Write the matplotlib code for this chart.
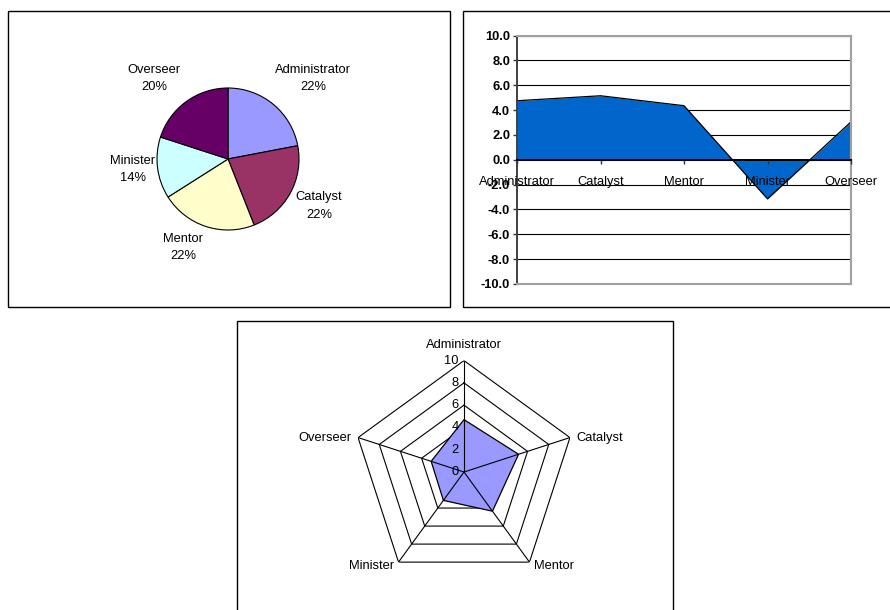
import numpy as np
import matplotlib
matplotlib.use("Agg")
import matplotlib.pyplot as plt
from matplotlib.patches import Rectangle

plt.rcParams["font.family"] = ["Liberation Sans", "DejaVu Sans"]

# ---- data ----
roles = ["Administrator", "Catalyst", "Mentor", "Minister", "Overseer"]
pie_shares = [22, 22, 22, 14, 20]
pie_colors = ["#9999FF", "#993366", "#FFFFCC", "#CCFFFF", "#660066"]
area_values = [4.75, 5.15, 4.35, -3.15, 3.05]
radar_values = [4.7, 5.15, 4.35, 3.15, 3.1]
y_ticks = [-10, -8, -6, -4, -2, 0, 2, 4, 6, 8, 10]
radar_rings = [2, 4, 6, 8, 10]

W, H = 890, 610
FS = 9.3
fig = plt.figure(figsize=(W / 100, H / 100), dpi=100)


def box(x0, y0, x1, y1):
    """Figure-fraction rect from pixel edges (origin at top-left)."""
    return [x0 / W, 1 - y1 / H, (x1 - x0) / W, (y1 - y0) / H]


def frame(x0, y0, x1, y1):
    fig.add_artist(Rectangle((x0 / W, 1 - y1 / H), (x1 - x0) / W, (y1 - y0) / H,
                             transform=fig.transFigure, fill=False,
                             edgecolor="black", linewidth=1.0))


# panel borders
frame(7.5, 11.5, 449.5, 307.5)
frame(462.5, 11.5, 900, 307.5)
frame(236.5, 320.5, 672.5, 620)

# ---- pie ----
cx, cy, r = 228, 159, 71
axp = fig.add_axes(box(cx - r, cy - r, cx + r, cy + r))
axp.pie(pie_shares, colors=pie_colors, startangle=90, counterclock=False,
        radius=1.0, wedgeprops=dict(edgecolor="black", linewidth=0.8))
axp.set_xlim(-1, 1)
axp.set_ylim(-1, 1)
axp.set_aspect("equal")
axp.axis("off")
label_pos = [(1.20, 1.13), (1.28, -0.66), (-0.63, -1.25), (-1.34, -0.15), (-1.04, 1.13)]
for name, share, (lx, ly) in zip(roles, pie_shares, label_pos):
    axp.text(lx, ly, f"{name}\n{share:.0f}%", ha="center", va="center",
             fontsize=FS, linespacing=1.6, clip_on=False)

# ---- area chart ----
axa = fig.add_axes(box(517, 35.5, 851, 284))
x = np.arange(len(roles))
axa.fill_between(x, area_values, 0, color="#0066CC", linewidth=0, zorder=1)
axa.plot(x, area_values, color="black", linewidth=0.9, zorder=1.5)
axa.set_xlim(0, len(roles) - 1)
axa.set_ylim(-10, 10)
axa.set_yticks(y_ticks)
axa.set_yticklabels([f"{v:.1f}" for v in y_ticks], fontsize=FS, fontweight="bold")
axa.yaxis.grid(True, color="black", linewidth=0.8)
axa.set_axisbelow(True)
axa.xaxis.set_zorder(4)
axa.tick_params(axis="y", direction="out", length=3, width=1, color="#333333", pad=2)
axa.spines["bottom"].set_position(("data", 0))
axa.spines["bottom"].set_color("black")
axa.spines["bottom"].set_linewidth(1.4)
axa.spines["bottom"].set_zorder(3)
axa.spines["left"].set_color("#404040")
axa.spines["left"].set_linewidth(1.4)
for s in ("top", "right"):
    axa.spines[s].set_color("#A0A0A0")
    axa.spines[s].set_linewidth(1.5)
axa.axhline(-10, color="#A0A0A0", linewidth=1.5, zorder=3, clip_on=False)
axa.set_xticks(x)
axa.set_xticklabels(roles, fontsize=FS)
axa.tick_params(axis="x", direction="out", length=3, width=1, color="#333333", pad=8.5)

# ---- radar ----
rcx, rcy, R = 464, 472, 111.4
axr = fig.add_axes(box(rcx - R, rcy - R, rcx + R, rcy + R), projection="polar")
axr.set_theta_offset(np.pi / 2)
axr.set_theta_direction(-1)
axr.set_ylim(0, 10)
axr.set_xticks([])
axr.set_yticks([])
axr.grid(False)
axr.spines["polar"].set_visible(False)
axr.patch.set_alpha(0)

theta = np.linspace(0, 2 * np.pi, len(roles), endpoint=False)
theta_c = np.append(theta, theta[0])
for ring in radar_rings:
    axr.plot(theta_c, [ring] * len(theta_c), color="black", linewidth=0.8, zorder=1)
axr.fill(theta_c, np.append(radar_values, radar_values[0]), facecolor="#9999FF",
         edgecolor="black", linewidth=0.9, zorder=2)
for t in theta:
    axr.plot([t, t], [0, 10], color="black", linewidth=0.8, zorder=3)

for v in [0] + radar_rings:
    axr.annotate(f"{v}", xy=(0, v), xytext=(-4, 0), textcoords="offset points",
                 ha="right", va="center", fontsize=FS, zorder=4, annotation_clip=False)

cat_offsets = [((0, 11.5), "center", "center"),
               ((4.5, 0), "left", "center"),
               ((3.5, -3), "left", "center"),
               ((-3.5, -3), "right", "center"),
               ((-4.5, 0), "right", "center")]
for t, name, (off, ha, va) in zip(theta, roles, cat_offsets):
    axr.annotate(name, xy=(t, 10), xytext=off, textcoords="offset points",
                 ha=ha, va=va, fontsize=FS, annotation_clip=False)

fig.savefig("out.png", dpi=100)
